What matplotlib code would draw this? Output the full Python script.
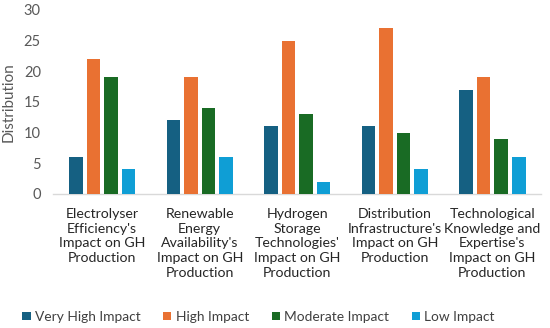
import matplotlib
matplotlib.use("Agg")
import matplotlib.pyplot as plt
import numpy as np

categories = [
    "Electrolyser\nEfficiency's\nImpact on GH\nProduction",
    "Renewable\nEnergy\nAvailability's\nImpact on GH\nProduction",
    "Hydrogen\nStorage\nTechnologies'\nImpact on GH\nProduction",
    "Distribution\nInfrastructure's\nImpact on GH\nProduction",
    "Technological\nKnowledge and\nExpertise's\nImpact on GH\nProduction",
]
series_names = ["Very High Impact", "High Impact", "Moderate Impact", "Low Impact"]
very_high = [6, 12, 11, 11, 17]
high = [22, 19, 25, 27, 19]
moderate = [19, 14, 13, 10, 9]
low = [4, 6, 2, 4, 6]
yticks = [0, 5, 10, 15, 20, 25, 30]

colors = ["#156082", "#E97132", "#196B24", "#0F9ED5"]
plt.rcParams['font.family'] = ['Lato', 'DejaVu Sans']
txt = "#595959"

fig = plt.figure(figsize=(5.5, 3.28), dpi=100)
ax = fig.add_axes([0.097, 0.409, 0.887, 0.561])

x = np.arange(len(categories))
w = 0.14
step = 0.18
for i, (vals, name) in enumerate(zip([very_high, high, moderate, low], series_names)):
    ax.bar(x + (i - 1.5) * step, vals, width=w, color=colors[i], label=name, zorder=3)

ax.set_xlim(-0.5, len(categories) - 0.5)
ax.set_ylim(0, 30)
ax.set_yticks(yticks)
ax.set_xticks(x)
ax.set_xticklabels(categories, fontsize=10.2, color="#262626", linespacing=1.28)
ax.tick_params(axis='y', labelsize=10.5, labelcolor=txt, length=0, pad=9)
ax.tick_params(axis='x', length=0, pad=10)
ax.set_ylabel("Distribution", fontsize=11, color=txt, labelpad=6)
for s in ["top", "right", "left"]:
    ax.spines[s].set_visible(False)
ax.spines["bottom"].set_color("#D9D9D9")
ax.spines["bottom"].set_linewidth(1)

fig.legend(loc="lower center", bbox_to_anchor=(0.47, -0.022), ncol=4, frameon=False,
           fontsize=9.9, handlelength=0.6, handleheight=0.6, handletextpad=0.3,
           columnspacing=1.65, labelcolor="#404040")

fig.savefig("out.png", dpi=100)
